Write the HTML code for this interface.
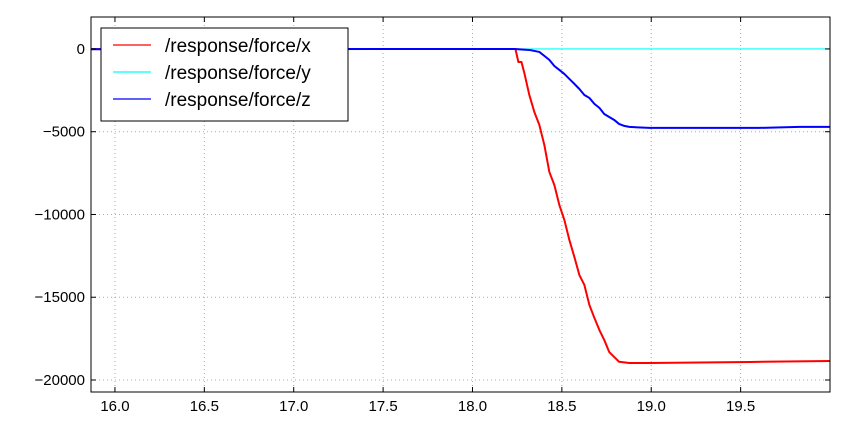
<!DOCTYPE html>
<html><head><meta charset="utf-8"><style>
html,body{margin:0;padding:0;background:#fff;}
svg text{font-family:"Liberation Sans",sans-serif;}
</style></head><body>
<svg id="chart" width="847" height="432" xmlns="http://www.w3.org/2000/svg">
<g id="grid"></g><g id="series"></g><g id="axes"></g><g id="legend"></g>
</svg>
<script>
const xTicks=[16.0,16.5,17.0,17.5,18.0,18.5,19.0,19.5];
const yTicks=[0,-5000,-10000,-15000,-20000];
const xsX=[15.866,18.24,18.257,18.274,18.29,18.318,18.346,18.374,18.402,18.43,18.458,18.486,18.514,18.542,18.57,18.598,18.626,18.654,18.682,18.71,18.737,18.765,18.82,18.877,18.99,19.55,20.0];
const forceX=[0,0,-790,-790,-1450,-2780,-3810,-4590,-5800,-7430,-8220,-9430,-10330,-11540,-12570,-13660,-14260,-15470,-16250,-16980,-17580,-18310,-18900,-18970,-18970,-18910,-18850];
const xsY=[15.866,20.0];
const forceY=[0,0];
const xsZ=[15.866,18.235,18.318,18.374,18.402,18.43,18.458,18.486,18.514,18.542,18.57,18.598,18.626,18.654,18.682,18.71,18.737,18.765,18.793,18.82,18.849,18.877,18.99,19.27,19.6,19.83,20.0];
const forceZ=[-20,0,-60,-180,-420,-660,-1030,-1270,-1510,-1810,-2110,-2420,-2780,-2960,-3320,-3560,-3930,-4110,-4290,-4530,-4650,-4710,-4770,-4770,-4770,-4710,-4710];
const L=91,R=830,T=17,B=392,xmin=15.866,xmax=20.0,ymin=-20725,ymax=1930;
const sx=v=>L+(v-xmin)/(xmax-xmin)*(R-L);
const sy=v=>T+(ymax-v)/(ymax-ymin)*(B-T);
const NS="http://www.w3.org/2000/svg";
function mk(tag,attrs,parent){const e=document.createElementNS(NS,tag);for(const k in attrs)e.setAttribute(k,attrs[k]);parent.appendChild(e);return e;}
const grid=document.getElementById('grid'),axes=document.getElementById('axes'),series=document.getElementById('series'),legend=document.getElementById('legend');
xTicks.forEach(t=>{const x=sx(t);
 const g=mk('line',{x1:x,x2:x,y1:T,y2:B,stroke:'#aaa','stroke-dasharray':'1,3'},grid);
 
 
 mk('line',{x1:x,x2:x,y1:B,y2:B-5,stroke:'#000'},axes);mk('line',{x1:x,x2:x,y1:T,y2:T+5,stroke:'#000'},axes);
 const tx=mk('text',{x:x,y:B+19,'text-anchor':'middle','font-size':'15'},axes);tx.textContent=t.toFixed(1);
 
 
});
yTicks.forEach(t=>{const y=sy(t);
 const g=mk('line',{x1:L,x2:R,y1:y,y2:y,stroke:'#aaa','stroke-dasharray':'1,3'},grid);
 
 
 mk('line',{x1:L,x2:L+5,y1:y,y2:y,stroke:'#000'},axes);mk('line',{x1:R,x2:R-5,y1:y,y2:y,stroke:'#000'},axes);
 const tx=mk('text',{x:L-6,y:y+5,'text-anchor':'end','font-size':'15'},axes);tx.textContent=t===0?'0':'\u2212'+Math.abs(t);
 
 
});
const frame=mk('rect',{x:L,y:T,width:R-L,height:B-T,fill:'none',stroke:'#000'},axes);


function line(xs,ys,color,w,name){const p=mk('polyline',{points:xs.map((x,i)=>sx(x)+','+sy(ys[i])).join(' '),fill:'none',stroke:color,'stroke-width':w,'stroke-linejoin':'round'},series);
 
 }
line(xsX,forceX,'#ff0000',2,'series-force-x');
line(xsY,forceY,'#00ffff',1.2,'series-force-y');
line(xsZ,forceZ,'#0000ff',2,'series-force-z');
const lb=mk('rect',{x:101,y:28,width:247,height:93,fill:'#fff',stroke:'#000'},legend);


[['/response/force/x','#ff0000'],['/response/force/y','#00ffff'],['/response/force/z','#0000ff']].forEach((d,i)=>{
 const y=45+i*27;
 const g=mk('g',{},legend);
 
 
 mk('line',{x1:113,x2:151,y1:y,y2:y,stroke:d[1],'stroke-width':1.3},g);
 const t=mk('text',{x:165,y:y+7,'font-size':'19'},g);t.textContent=d[0];
});
</script>
</body></html>
